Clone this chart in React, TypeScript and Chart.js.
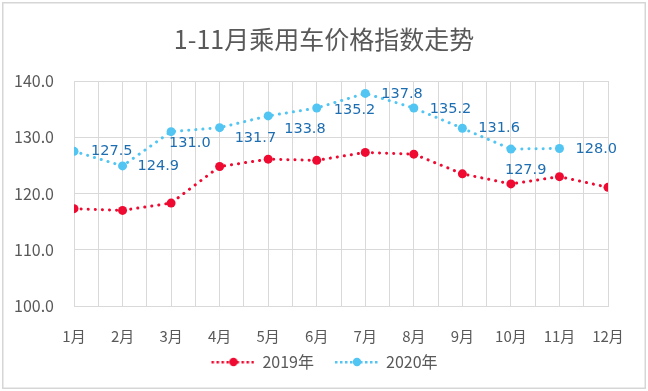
import React, { useEffect, useRef } from "react";
import { Chart, registerables } from "chart.js";

Chart.register(...registerables);

const months = ["1月", "2月", "3月", "4月", "5月", "6月", "7月", "8月", "9月", "10月", "11月", "12月"];
const series2019 = [117.3, 117.0, 118.3, 124.8, 126.1, 125.9, 127.3, 127.0, 123.5, 121.7, 123.0, 121.1];
const series2020 = [127.5, 124.9, 131.0, 131.7, 133.8, 135.2, 137.8, 135.2, 131.6, 127.9, 128.0];
const yTicks = [100, 110, 120, 130, 140];
const titleText = "1-11月乘用车价格指数走势";

const RED = "#ee0a30";
const BLUE = "#52c5f3";
const LABEL_BLUE = "#1d6db1";
const TEXT_GRAY = "#595959";
const GRID = "#d9d9d9";
const CJK = '"Noto Sans CJK SC", "Noto Sans", sans-serif';

// label nudges (dx, dy) relative to each 2020 point
const labelNudge: [number, number][] = [
  [17, 0], [15, 0], [-2, 12], [15, 11], [16, 13], [17, 2], [16, 1], [16, 1], [16, 0], [-6, 21], [16, 1],
];

const ICON_W = 56;
const ICON_BLANK = 12;

function legendIcon(color: string): HTMLCanvasElement {
  const c = document.createElement("canvas");
  c.width = ICON_W;
  c.height = 10;
  const ctx = c.getContext("2d")!;
  ctx.fillStyle = color;
  for (let x = ICON_BLANK + 1; x < ICON_W; x += 5) {
    ctx.fillRect(x, 4, 2.5, 2.5);
  }
  ctx.beginPath();
  ctx.arc(ICON_BLANK + 23, 5, 4.2, 0, Math.PI * 2);
  ctx.fill();
  return c;
}

const borderPlugin = {
  id: "frameBorder",
  beforeDraw(chart: any) {
    const ctx = chart.ctx;
    ctx.save();
    ctx.fillStyle = "#ffffff";
    ctx.fillRect(0, 0, chart.width, chart.height);
    ctx.strokeStyle = "#d6d6d6";
    ctx.lineWidth = 1.5;
    ctx.strokeRect(2.75, 2.75, chart.width - 5.5, chart.height - 5.5);
    ctx.restore();
  },
};

// compensate the blank lead-in of the first legend icon so the visible legend is centred
const legendShiftPlugin = {
  id: "legendShift",
  afterLayout(chart: any) {
    if (chart.legend) {
      chart.legend.left -= ICON_BLANK / 2;
      chart.legend.right -= ICON_BLANK / 2;
    }
  },
};

const dataLabelPlugin = {
  id: "pointLabels",
  afterDatasetsDraw(chart: any) {
    const ctx = chart.ctx;
    const meta = chart.getDatasetMeta(1);
    ctx.save();
    ctx.font = '14.5px "DejaVu Sans", sans-serif';
    ctx.fillStyle = LABEL_BLUE;
    ctx.textAlign = "left";
    ctx.textBaseline = "middle";
    meta.data.forEach((pt: any, i: number) => {
      const [dx, dy] = labelNudge[i] || [16, 0];
      ctx.fillText(series2020[i].toFixed(1), pt.x + dx, pt.y + dy);
    });
    ctx.restore();
  },
};

export default function App() {
  const ref = useRef<HTMLCanvasElement | null>(null);

  useEffect(() => {
    if (!ref.current) return;
    const icons = [legendIcon(RED), legendIcon(BLUE)];
    const chart = new Chart(ref.current, {
      type: "line",
      data: {
        datasets: [
          {
            label: "2019年",
            data: series2019.map((v, i) => ({ x: i, y: v })),
            borderColor: RED,
            backgroundColor: RED,
            borderWidth: 3,
            borderDash: [0.1, 7],
            borderCapStyle: "round",
            pointRadius: 4.5,
            pointBackgroundColor: RED,
            pointBorderColor: RED,
            pointBorderWidth: 0,
            tension: 0,
          },
          {
            label: "2020年",
            data: series2020.map((v, i) => ({ x: i, y: v })),
            borderColor: BLUE,
            backgroundColor: BLUE,
            borderWidth: 3,
            borderDash: [0.1, 7],
            borderCapStyle: "round",
            pointRadius: 4.5,
            pointBackgroundColor: BLUE,
            pointBorderColor: BLUE,
            pointBorderWidth: 0,
            tension: 0,
          },
        ],
      },
      options: {
        responsive: false,
        animation: false,
        devicePixelRatio: 1,
        layout: { padding: { top: 0, left: 0, right: 0, bottom: 11 } },
        plugins: {
          title: {
            display: true,
            text: titleText,
            color: TEXT_GRAY,
            font: { family: CJK, size: 25, weight: "normal", lineHeight: 1.2 },
            padding: { top: 24, bottom: 27 },
          },
          legend: {
            display: true,
            position: "bottom",
            labels: {
              color: TEXT_GRAY,
              font: { family: CJK, size: 16 },
              usePointStyle: true,
              pointStyleWidth: ICON_W,
              padding: 8,
              generateLabels: (c: any) =>
                c.data.datasets.map((ds: any, i: number) => ({
                  text: ds.label,
                  fillStyle: ds.borderColor,
                  strokeStyle: ds.borderColor,
                  fontColor: TEXT_GRAY,
                  lineWidth: 0,
                  pointStyle: icons[i],
                  hidden: false,
                  datasetIndex: i,
                })),
            },
          },
          tooltip: { enabled: false },
        },
        scales: {
          x: {
            type: "linear",
            min: 0,
            max: 11,
            afterBuildTicks: (scale: any) => {
              const t = [];
              for (let i = 0; i <= 22; i++) t.push({ value: i / 2 });
              scale.ticks = t;
            },
            afterFit: (scale: any) => {
              scale.height = 40;
            },
            ticks: {
              autoSkip: false,
              maxRotation: 0,
              padding: 21,
              color: TEXT_GRAY,
              font: { family: CJK, size: 15 },
              callback: (v: any) => (Number.isInteger(v) ? months[v] : ""),
            },
            grid: { color: GRID, lineWidth: 1, drawTicks: false },
            border: { color: GRID, width: 1 },
          },
          y: {
            min: 100,
            max: 140,
            afterBuildTicks: (scale: any) => {
              scale.ticks = yTicks.map((v) => ({ value: v }));
            },
            afterFit: (scale: any) => {
              scale.width = 74;
            },
            ticks: {
              padding: 20,
              color: TEXT_GRAY,
              font: { family: CJK, size: 16 },
              callback: (v: any) => Number(v).toFixed(1),
            },
            grid: { color: GRID, lineWidth: 1, drawTicks: false },
            border: { color: GRID, width: 1 },
          },
          spacer: {
            type: "linear",
            position: "right",
            display: true,
            min: 100,
            max: 140,
            afterFit: (scale: any) => {
              scale.width = 40;
            },
            ticks: { display: false },
            grid: { display: false, drawTicks: false },
            border: { display: false },
          },
        },
      },
      plugins: [borderPlugin, legendShiftPlugin, dataLabelPlugin],
    } as any);
    return () => chart.destroy();
  }, []);

  return (
    <div style={{ position: "fixed", left: 0, top: 0, width: 648, height: 391 }}>
      <canvas ref={ref} width={648} height={391} />
    </div>
  );
}
